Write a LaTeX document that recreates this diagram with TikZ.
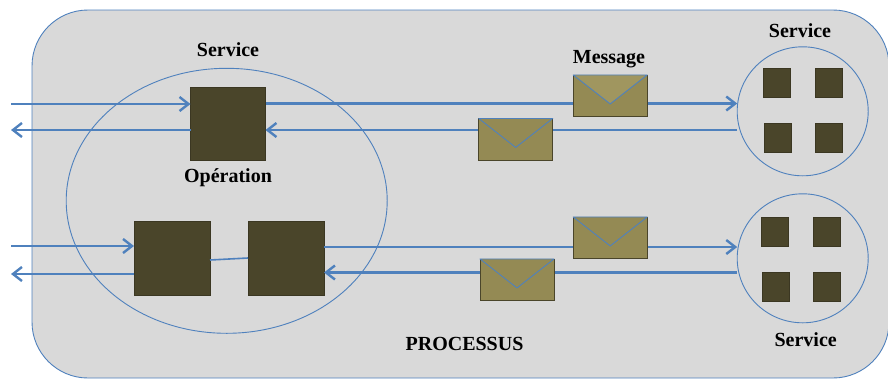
\documentclass[tikz,border=0pt]{standalone}
\usepackage{fontspec}
\setmainfont{Liberation Serif}
\usetikzlibrary{arrows.meta,calc,shapes.geometric}
\definecolor{lineblue}{HTML}{4F81BD}
\definecolor{panelgrey}{HTML}{D9D9D9}
\definecolor{opbrown}{HTML}{4A452A}
\definecolor{envbrown}{HTML}{948A54}
\definecolor{flapbrown}{HTML}{A0965F}
\tikzset{
  x=1pt,y=-1pt,
  panelbox/.style={draw=lineblue,line width=0.9pt,fill=panelgrey,rounded corners=56pt},
  opbox/.style={rectangle,draw=opbrown!80!black,line width=0.6pt,fill=opbrown,inner sep=0pt,outer sep=0pt,minimum width=#1},
  opbox/.default=75pt,
  smallop/.style={rectangle,draw=opbrown!80!black,line width=0.4pt,fill=opbrown,inner sep=0pt,outer sep=0pt,minimum width=27pt,minimum height=29pt},
  svccircle/.style={ellipse,draw=lineblue,line width=0.9pt,inner sep=0pt,outer sep=0pt,minimum width=131pt,minimum height=129pt},
  envbox/.style={rectangle,draw=opbrown,line width=0.6pt,fill=envbrown,inner sep=0pt,outer sep=0pt,minimum width=74pt,minimum height=41.5pt},
  flow/.style={draw=lineblue,line width=2.4pt},
  flowhead/.style={flow,-{Straight Barb[length=9pt,width=14pt,line width=2.4pt]}},
  flap/.style={draw=lineblue,line width=0.9pt,line join=round},
  lbl/.style={font=\bfseries\fontsize{20}{24}\selectfont,text=black,inner sep=0pt}
}
\newcommand{\envflap}[2]{%
  \coordinate (#1tip) at ($(#1.south)+(0,-12.5)$);
  \filldraw[flap,fill=#2] (#1.north west) -- (#1tip) -- (#1.north east) -- cycle;}
\begin{document}
\begin{tikzpicture}
\useasboundingbox (0,0) rectangle (888,378);
\clip (0,0) rectangle (888,378);
\draw[panelbox] (32,10) rectangle (889,378);

% services
\node[ellipse,draw=lineblue,line width=0.9pt,minimum width=321pt,minimum height=265pt,inner sep=0pt,outer sep=0pt] (svcmain) at (226.7,200.8) {};
\node[svccircle] (svca) at (802.7,111.3) {};
\node[svccircle] (svcb) at (802.7,258.3) {};

% operations
\node[opbox,minimum height=73pt] (opa) at (228,123.5) {};
\node[opbox=76pt,minimum height=74pt] (opb) at (172,258) {};
\node[opbox=76pt,minimum height=74pt] (opc) at (286,258) {};

% small operations
\node[smallop] (a1) at (776.5,82.5) {};
\node[smallop] (a2) at (828.5,82.5) {};
\node[smallop] (a3) at (777.5,137.5) {};
\node[smallop] (a4) at (828.5,137.5) {};
\node[smallop] (b1) at (775,231.5) {};
\node[smallop] (b2) at (826.7,231.5) {};
\node[smallop] (b3) at (776,286.5) {};
\node[smallop] (b4) at (826.7,286.5) {};

% free ends
\coordinate (ina) at (11,104);
\coordinate (outa) at (11,130);
\coordinate (inb) at (11,246);
\coordinate (outb) at (11,274);

% connectors
\draw[flowhead] (ina) -- (ina -| opa.west);
\draw[flowhead] (outa -| opa.west) -- (outa);
\draw[flowhead] (inb) -- (inb -| opb.west);
\draw[flowhead] (outb -| opb.west) -- (outb);
\draw[lineblue,line width=1.6pt] ($(opb.east)+(0,2)$) -- (opc.west);
\draw[flowhead] ($(opa.east)+(0,-20)$) -- ($(svca.west)+(0,-7.8)$);
\draw[flowhead] ($(svca.west)+(0,18.7)$) -- ($(opa.east)+(0,6.5)$);
\draw[flowhead] ($(opc.east)+(0,-11)$) -- ($(svcb.west)+(0,-11.3)$);
\draw[flowhead] ($(svcb.west)+(0,14.2)$) -- ($(opc.east)+(0,14.5)$);

% messages
\node[envbox] (env1) at (610.2,95.7) {};
\envflap{env1}{flapbrown}
\node[envbox] (env2) at (515.7,139.2) {};
\envflap{env2}{envbrown}
\node[envbox] (env3) at (610.2,237.7) {};
\envflap{env3}{envbrown}
\node[envbox] (env4) at (517,279.7) {};
\envflap{env4}{envbrown}

% labels
\node[lbl] (lservice) at (228,50) {Service};
\node[lbl] (loperation) at (228,178) {Opération};
\node[lbl] (lmessage) at (609,59) {Message};
\node[lbl] (lservicea) at (800,31) {Service};
\node[lbl] (lserviceb) at (805.7,340) {Service};
\node[lbl] (lprocess) at (464.5,344) {PROCESSUS};
\end{tikzpicture}
\end{document}
